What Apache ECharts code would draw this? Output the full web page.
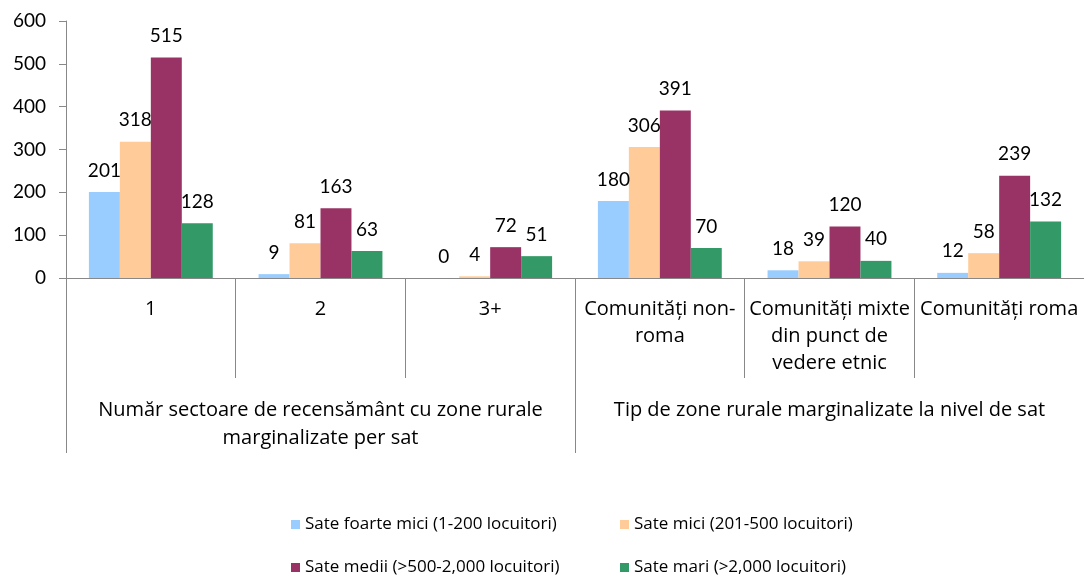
<!DOCTYPE html>
<html>
<head>
<meta charset="utf-8">
<script src="https://cdn.jsdelivr.net/npm/echarts@6/dist/echarts.min.js"></script>
<style>html,body{margin:0;padding:0;background:#fff}#c{width:1084px;height:577px}</style>
</head>
<body>
<div id="c"></div>
<script>
const categories = ['1', '2', '3+', 'Comunități non-\nroma', 'Comunități mixte\ndin punct de\nvedere etnic', 'Comunități roma'];
const groups = ['Număr sectoare de recensământ cu zone rurale\nmarginalizate per sat', 'Tip de zone rurale marginalizate la nivel de sat'];
const seriesNames = ['Sate foarte mici (1-200 locuitori)', 'Sate mici (201-500 locuitori)', 'Sate medii (>500-2,000 locuitori)', 'Sate mari (>2,000 locuitori)'];
const foarteMici = [201, 9, 0, 180, 18, 12];
const mici = [318, 81, 4, 306, 39, 58];
const medii = [515, 163, 72, 391, 120, 239];
const mari = [128, 63, 51, 70, 40, 132];
const yTicks = [0, 100, 200, 300, 400, 500, 600];
const colors = ['#99CCFF', '#FFCC99', '#993366', '#339966'];

const NUMFONT = 'Lato, "Open Sans", sans-serif';
const TXTFONT = '"Open Sans", Lato, sans-serif';
const axisColor = '#888888';
const values = [foarteMici, mici, medii, mari];

const chart = echarts.init(document.getElementById('c'));
chart.setOption({
  animation: false,
  textStyle: { fontFamily: TXTFONT },
  grid: { left: 66, right: 0, top: 21, bottom: 299, containLabel: false },
  legend: [
    { data: [seriesNames[0], seriesNames[2]], orient: 'vertical', left: 291, top: 516, padding: 0,
      itemWidth: 9, itemHeight: 9, itemGap: 26, icon: 'rect',
      textStyle: { fontFamily: TXTFONT, fontSize: 17, color: '#000' } },
    { data: [seriesNames[1], seriesNames[3]], orient: 'vertical', left: 620, top: 516, padding: 0,
      itemWidth: 9, itemHeight: 9, itemGap: 26, icon: 'rect',
      textStyle: { fontFamily: TXTFONT, fontSize: 17, color: '#000' } }
  ],
  xAxis: [
    { type: 'category', data: categories, position: 'bottom',
      axisLine: { onZero: false, lineStyle: { color: axisColor } },
      axisTick: { show: true, interval: 0, length: 100, lineStyle: { color: axisColor } },
      axisLabel: { interval: 0, margin: 18, fontSize: 20, lineHeight: 27, color: '#000', fontFamily: TXTFONT } },
    { type: 'category', data: groups, position: 'bottom', offset: 100,
      axisLine: { show: false, onZero: false },
      axisTick: { show: true, interval: 0, length: 75, lineStyle: { color: axisColor } },
      axisLabel: { interval: 0, margin: 18, fontSize: 20, lineHeight: 28, color: '#000', fontFamily: TXTFONT } }
  ],
  yAxis: {
    type: 'value', min: yTicks[0], max: yTicks[yTicks.length - 1], interval: 100,
    axisLine: { show: true, lineStyle: { color: axisColor } },
    axisTick: { show: true, length: 7, lineStyle: { color: axisColor } },
    splitLine: { show: false },
    axisLabel: { margin: 20, fontSize: 19, color: '#000', fontFamily: NUMFONT }
  },
  series: seriesNames.map((n, i) => ({
    name: n, type: 'bar', xAxisIndex: 0, data: values[i],
    barGap: '0%', barCategoryGap: '27%',
    itemStyle: { color: colors[i] },
    label: { show: true, position: 'top', distance: 12, fontSize: 19, color: '#000', fontFamily: NUMFONT }
  }))
});
</script>
</body>
</html>
